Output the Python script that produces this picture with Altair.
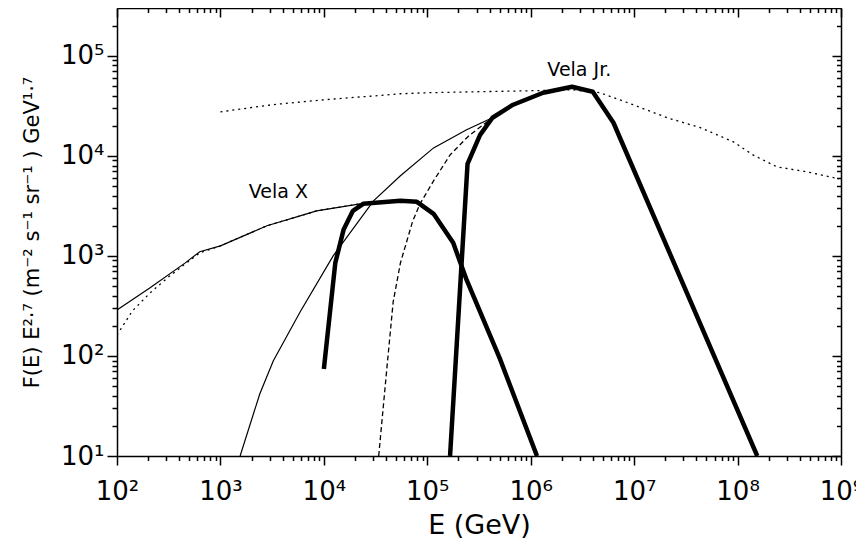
import altair as alt
import pandas as pd

# ---- data (E in GeV, F in m^-2 s^-1 sr^-1 GeV^1.7) ----
velax_thick_E = [1.0e4, 1.29e4, 1.55e4, 1.91e4, 2.40e4, 5.50e4, 7.94e4, 1.15e5, 1.78e5, 2.40e5, 5.01e5, 1.15e6]
velax_thick_F = [74, 851, 1820, 2820, 3310, 3550, 3470, 2630, 1350, 575, 95, 10]

velax_thin_E = [100, 209, 457, 631, 1000, 2820, 5890, 8510, 2.24e4, 5.50e4, 7.94e4, 1.15e5, 1.78e5, 2.40e5, 5.01e5, 1.15e6]
velax_thin_F = [288, 479, 851, 1100, 1260, 2000, 2510, 2820, 3310, 3550, 3470, 2630, 1350, 575, 95, 10]

velax_dot_E = [100, 141, 209, 316, 457, 631, 1000, 2820, 5890, 8510, 2.24e4]
velax_dot_F = [162, 282, 427, 617, 832, 1070, 1260, 2000, 2510, 2820, 3310]

velajr_dash_E = [3.39e4, 4.07e4, 4.68e4, 5.50e4, 7.24e4, 8.51e4, 1.15e5, 1.66e5, 2.51e5, 3.80e5, 4.27e5]
velajr_dash_F = [10, 76, 347, 851, 2240, 3310, 5620, 10200, 15800, 21900, 24000]

velajr_thin_E = [1550, 2400, 3240, 5890, 1.23e4, 3.02e4, 5.50e4, 1.15e5, 2.40e5, 4.27e5, 6.76e5, 1.32e6, 2.51e6, 3.98e6, 6.31e6, 1.55e8]
velajr_thin_F = [10, 41.7, 89.1, 275, 1000, 3550, 6310, 12000, 18200, 24000, 32400, 42700, 49000, 43700, 21400, 10]

velajr_thick_E = [1.66e5, 2.45e5, 3.24e5, 4.27e5, 6.76e5, 1.32e6, 2.51e6, 3.98e6, 6.31e6, 1.55e8]
velajr_thick_F = [10, 8320, 16200, 24000, 32400, 42700, 49000, 43700, 21400, 10]

total_E = [1e3, 3160, 1e4, 3.16e4, 5.50e4, 1e5, 3.16e5, 1e6, 2.51e6, 4.68e6, 9.77e6, 2.09e7, 4.37e7, 9.12e7, 1.41e8, 2.40e8, 4.68e8, 9.55e8]
total_F = [27500, 32400, 36300, 39800, 41700, 42700, 43700, 44700, 45700, 42700, 32400, 24000, 19100, 13800, 10200, 7760, 6920, 5890]

label_text = ["Vela X", "Vela Jr."]
label_E = [3630, 2.95e6]
label_F = [4370, 72400]

x_ticks = [k * 10 ** n for n in range(2, 9) for k in range(1, 10)] + [1e9]
y_ticks = [k * 10 ** n for n in range(1, 5) for k in range(1, 10)] + [1e5, 2e5]

# ---- build table ----
rows = []
def add(name, style, E, F):
    for i, (e, f) in enumerate(zip(E, F)):
        rows.append({"series": name, "style": style, "E": e, "F": f, "i": i})

add("velax_thick", "thick", velax_thick_E, velax_thick_F)
add("velax_thin", "thin", velax_thin_E, velax_thin_F)
add("velax_dot", "dotted", velax_dot_E, velax_dot_F)
add("velajr_dash", "dashed", velajr_dash_E, velajr_dash_F)
add("velajr_thin", "thin", velajr_thin_E, velajr_thin_F)
add("velajr_thick", "thick", velajr_thick_E, velajr_thick_F)
add("total", "dotted", total_E, total_F)
df = pd.DataFrame(rows)
labels_df = pd.DataFrame({"E": label_E, "F": label_F, "text": label_text})

FONT = "DejaVu Sans"
MAJOR = "abs(log(datum.value)/LN10 - round(log(datum.value)/LN10)) < 0.001"
SUP = "['\u2070','\u00b9','\u00b2','\u00b3','\u2074','\u2075','\u2076','\u2077','\u2078','\u2079']"
LABEL = MAJOR + " ? '10' + " + SUP + "[round(log(datum.value)/LN10)] : ''"

xscale = alt.Scale(type="log", domain=[100, 1e9], nice=False)
yscale = alt.Scale(type="log", domain=[10, 3e5], nice=False)

common = dict(grid=False, domainColor="black", domainWidth=1.5, tickColor="black",
              tickWidth=1.5, labelOverlap=False, labelFlush=False)

x_bottom = alt.Axis(values=x_ticks, labelExpr=LABEL, tickSize=alt.ExprRef(MAJOR + " ? 9 : 4.5"),
                    labelFont=FONT, labelFontSize=26, labelColor="black", labelPadding=13,
                    title="E (GeV)", titleFont=FONT, titleFontSize=27, titleFontWeight="normal",
                    titleColor="black", titlePadding=8, **common)
y_left = alt.Axis(values=y_ticks, labelExpr=LABEL, tickSize=alt.ExprRef(MAJOR + " ? 10 : 5"),
                  labelFont=FONT, labelFontSize=26, labelColor="black", labelPadding=3,
                  title="F(E) E\u00b2\u00b7\u2077 (m\u207b\u00b2 s\u207b\u00b9 sr\u207b\u00b9 )  GeV\u00b9\u00b7\u2077",
                  titleFont=FONT, titleFontSize=21, titleFontWeight="normal", titleColor="black",
                  titlePadding=18, **common)
x_top = alt.Axis(orient="top", values=x_ticks, labels=False, title=None,
                 tickSize=alt.ExprRef(MAJOR + " ? -9 : -4.5"), **common)
y_right = alt.Axis(orient="right", values=y_ticks, labels=False, title=None,
                   tickSize=alt.ExprRef(MAJOR + " ? -9 : -4.5"), **common)

X = alt.X("E:Q", scale=xscale, axis=x_bottom)
Y = alt.Y("F:Q", scale=yscale, axis=y_left)

base = alt.Chart(df)
thick = base.transform_filter(alt.datum.style == "thick").mark_line(
    color="black", strokeWidth=4.5, clip=True, strokeJoin="round").encode(x=X, y=Y, detail="series:N", order="i:Q")
thin = base.transform_filter(alt.datum.style == "thin").mark_line(
    color="black", strokeWidth=1.2, clip=True).encode(x=X, y=Y, detail="series:N", order="i:Q")
dotted = base.transform_filter(alt.datum.style == "dotted").mark_line(
    color="black", strokeWidth=1.3, strokeDash=[2, 4], clip=True).encode(x=X, y=Y, detail="series:N", order="i:Q")
dashed = base.transform_filter(alt.datum.style == "dashed").mark_line(
    color="black", strokeWidth=1.3, strokeDash=[5, 3], clip=True).encode(x=X, y=Y, detail="series:N", order="i:Q")
texts = alt.Chart(labels_df).mark_text(font=FONT, fontSize=19, color="black").encode(x=X, y=Y, text="text:N")

main = alt.layer(dotted, dashed, thin, thick, texts)

frame = alt.Chart(df).mark_point(opacity=0).encode(
    x=alt.X("E:Q", scale=xscale, axis=x_top),
    y=alt.Y("F:Q", scale=yscale, axis=y_right),
)

chart = alt.layer(main, frame).resolve_axis(x="independent", y="independent").properties(
    width=724, height=448,
    autosize=alt.AutoSizeParams(type="none"),
    padding={"left": 109, "top": 0, "right": 15, "bottom": 92},
).configure_view(stroke="black", strokeWidth=1.5).configure(background="white")

chart.save("out.html", embed_options={"renderer": "svg", "actions": False})
